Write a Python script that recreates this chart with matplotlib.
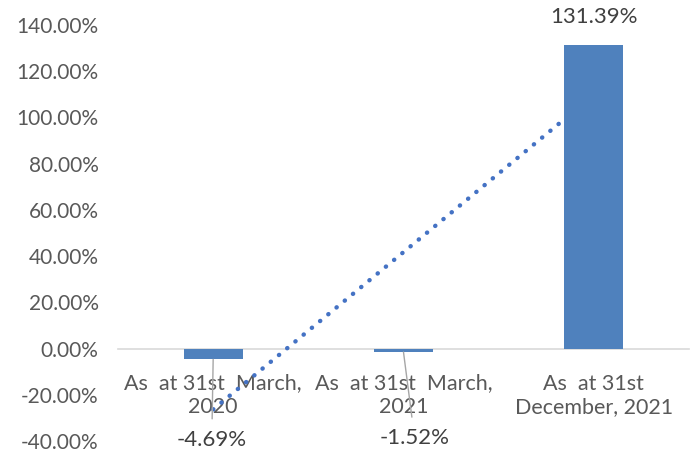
import matplotlib.pyplot as plt
import numpy as np

# Data
categories = ["As  at 31st  March,\n2020", "As  at 31st  March,\n2021", "As  at 31st\nDecember, 2021"]
values = [-4.69, -1.52, 131.39]
value_labels = ["-4.69%", "-1.52%", "131.39%"]
y_ticks = [-40, -20, 0, 20, 40, 60, 80, 100, 120, 140]

plt.rcParams['font.family'] = ['Lato', 'DejaVu Sans']
text_color = '#595959'
bar_color = '#4F81BD'

fig = plt.figure(figsize=(6.97, 4.58), dpi=100)
ax = fig.add_axes([0.1693, 0.0371, 0.8192, 0.9083])

x = np.arange(len(values))
ax.bar(x, values, width=0.31, color=bar_color, zorder=3)

# linear trendline (behind the bars)
coef = np.polyfit(x, values, 1)
tx = np.array([x[0], x[-1]])
ax.plot(tx, np.polyval(coef, tx), linestyle=(0, (0.05, 2.35)), color='#4472C4',
        linewidth=3.2, dash_capstyle='round', zorder=2)

ax.set_xlim(-0.5, 2.5)
ax.set_ylim(-40, 140)
ax.set_yticks(y_ticks)
ax.set_yticklabels([f"{t:.2f}%" for t in y_ticks])

ax.set_xticks(x)
ax.set_xticklabels(categories, linespacing=1.7)
ax.tick_params(axis='x', length=0, pad=18, labelsize=15.5, labelcolor=text_color)
ax.tick_params(axis='y', length=0, pad=14, labelsize=15, labelcolor=text_color)

for s in ['top', 'right', 'left']:
    ax.spines[s].set_visible(False)
ax.spines['bottom'].set_position(('data', 0))
ax.spines['bottom'].set_color('#D9D9D9')
ax.spines['bottom'].set_linewidth(1.2)
ax.spines['bottom'].set_zorder(1)

# data labels
ax.annotate(value_labels[0], xy=(x[0], values[0]), xytext=(-1, -58),
            textcoords='offset points', ha='center', va='center', fontsize=16,
            color='#404040',
            arrowprops=dict(arrowstyle='-', color='#A6A6A6', lw=1, shrinkA=6, shrinkB=0))
ax.annotate(value_labels[1], xy=(x[1], values[1]), xytext=(8, -62),
            textcoords='offset points', ha='center', va='center', fontsize=16,
            color='#404040',
            arrowprops=dict(arrowstyle='-', color='#A6A6A6', lw=1, shrinkA=6, shrinkB=0))
ax.annotate(value_labels[2], xy=(x[2], values[2]), xytext=(0, 20),
            textcoords='offset points', ha='center', va='center', fontsize=16,
            color='#404040', annotation_clip=False)

fig.savefig('out.png', dpi=100)
